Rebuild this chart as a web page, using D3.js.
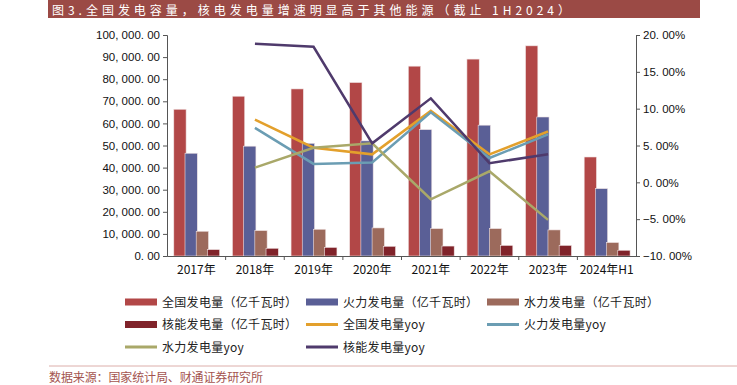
<!DOCTYPE html>
<html>
<head>
<meta charset="utf-8">
<script src="https://cdn.jsdelivr.net/npm/d3@7"></script>
<style>
  body { margin: 0; background: #fff; }
  text { font-family: "Liberation Sans", Arial, sans-serif; }
  .cjk { font-family: "Noto Sans CJK SC", sans-serif; }
</style>
</head>
<body>
<svg id="chart" width="737" height="385"></svg>
<script>
'use strict'

var years = ['2017年','2018年','2019年','2020年','2021年','2022年','2023年','2024年H1']

// 亿千瓦时
var total   = [66400, 72300, 75600, 78500, 85900, 89100, 95100, 44800]
var thermal = [46500, 49700, 51000, 52100, 57200, 59200, 62900, 30500]
var hydro   = [11200, 11500, 12100, 12700, 12400, 12400, 11800, 6100]
var nuclear = [2900, 3500, 3900, 4400, 4500, 4800, 4800, 2600]

// yoy, %, 2018-2023
var totalYoy   = [null, 8.5, 4.7, 3.8, 9.7, 3.8, 6.9, null]
var thermalYoy = [null, 7.4, 2.5, 2.7, 9.5, 3.3, 6.5, null]
var hydroYoy   = [null, 2.0, 4.7, 5.3, -2.3, 1.5, -5.1, null]
var nuclearYoy = [null, 18.8, 18.4, 5.3, 11.4, 2.6, 3.8, null]

var leftTicks  = d3.range(0, 100001, 10000)
var rightTicks = d3.range(-10, 20.1, 5)

var barSeries = [
  {name: '全国发电量（亿千瓦时）', values: total,   color: '#b24747'},
  {name: '火力发电量（亿千瓦时）', values: thermal, color: '#5a5f96'},
  {name: '水力发电量（亿千瓦时）', values: hydro,   color: '#9c6a5c'},
  {name: '核能发电量（亿千瓦时）', values: nuclear, color: '#80232a'}
]
var lineSeries = [
  {name: '全国发电量yoy', values: totalYoy,   color: '#e3a02c'},
  {name: '火力发电量yoy', values: thermalYoy, color: '#6b9db3'},
  {name: '水力发电量yoy', values: hydroYoy,   color: '#a9a869'},
  {name: '核能发电量yoy', values: nuclearYoy, color: '#4f3a6c'}
]

var svg = d3.select('#chart')
var plot = {left: 167, right: 636, top: 35, bottom: 256}

// title bar
svg.append('rect')
  .attr('x', 48).attr('y', 0)
  .attr('width', 652).attr('height', 18)
  .attr('fill', '#9b4a45')
svg.append('text')
  .attr('class', 'cjk')
  .attr('x', 52).attr('y', 14.5)
  .attr('fill', '#fff')
  .attr('font-size', 12)
  .attr('textLength', 518)
  .attr('lengthAdjust', 'spacing')
  .text('图3.全国发电容量，核电发电量增速明显高于其他能源（截止 1H2024）')

var x = d3.scaleBand()
  .domain(years)
  .range([plot.left, plot.right])

var y = d3.scaleLinear()
  .domain([0, 100000])
  .range([plot.bottom, plot.top])

var y2 = d3.scaleLinear()
  .domain([-10, 20])
  .range([plot.bottom, plot.top])

var fmtLeft = function(d) {
  return d3.format(',.2f')(d).replace(/,/g, ', ').replace('.', '. ')
}
var fmtRight = function(d) {
  return d3.format('.2f')(d).replace('.', '. ') + '%'
}

// bars
var barStep = 11.2, barW = 12.3, barOffset = 6.8
barSeries.forEach(function(s, i) {
  svg.append('g')
    .selectAll('rect')
    .data(s.values)
    .enter()
      .append('rect')
      .attr('x', (d, j) => x(years[j]) + barOffset + i * barStep)
      .attr('y', d => y(d))
      .attr('width', barW)
      .attr('height', d => y(0) - y(d))
      .attr('fill', s.color)
      .attr('stroke', '#f1e4e4')
      .attr('stroke-width', 0.6)
})

// axes
var axisL = svg.append('g')
  .attr('transform', 'translate(' + plot.left + ',0)')
  .call(d3.axisLeft(y).tickValues(leftTicks).tickFormat(fmtLeft).tickSize(4).tickPadding(3))
var axisR = svg.append('g')
  .attr('transform', 'translate(' + plot.right + ',0)')
  .call(d3.axisRight(y2).tickValues(rightTicks).tickFormat(fmtRight).tickSize(4).tickPadding(3))
var axisX = svg.append('g')
  .attr('transform', 'translate(0,' + plot.bottom + ')')
  .call(d3.axisBottom(x).tickSize(0).tickPadding(9))

// category separators on x axis
axisX.selectAll('.sep')
  .data(years.slice(1))
  .enter()
    .append('line')
    .attr('x1', d => x(d)).attr('x2', d => x(d))
    .attr('y1', 0).attr('y2', 4)
    .attr('stroke', '#555')

;[axisL, axisR, axisX].forEach(function(a) {
  a.selectAll('.domain').attr('stroke', '#555')
  a.selectAll('.tick line').attr('stroke', '#555')
  a.selectAll('text').attr('fill', '#111').attr('font-size', 11.5)
})
axisX.selectAll('text').attr('class', 'cjk').attr('font-size', 12)

// yoy lines
var line = d3.line()
  .defined(d => d.v != null)
  .x(d => x(d.k) + x.bandwidth() / 2)
  .y(d => y2(d.v))

lineSeries.forEach(function(s) {
  svg.append('path')
    .datum(s.values.map((v, j) => ({k: years[j], v: v})))
    .attr('d', line)
    .attr('fill', 'none')
    .attr('stroke', s.color)
    .attr('stroke-width', 2.5)
})

// legend
var legendItems = barSeries.map(s => ({name: s.name, color: s.color, bar: true}))
  .concat(lineSeries.map(s => ({name: s.name, color: s.color, bar: false})))
var legCols = [125, 306, 487], legRows = [302, 324.5, 347]

var leg = svg.append('g')
  .selectAll('g')
  .data(legendItems)
  .enter()
    .append('g')
    .attr('transform', (d, i) => 'translate(' + legCols[i % 3] + ',' + legRows[Math.floor(i / 3)] + ')')

leg.append('rect')
  .attr('x', 0)
  .attr('y', d => d.bar ? -3.5 : -1.5)
  .attr('width', 32)
  .attr('height', d => d.bar ? 7 : 3)
  .attr('fill', d => d.color)

leg.append('text')
  .attr('class', 'cjk')
  .attr('x', 37)
  .attr('y', 4.5)
  .attr('font-size', 12)
  .attr('fill', '#222')
  .attr('letter-spacing', 0.3)
  .text(d => d.name)

// source
svg.append('line')
  .attr('x1', 49).attr('x2', 737)
  .attr('y1', 366).attr('y2', 366)
  .attr('stroke', '#dcaeaa')
svg.append('text')
  .attr('class', 'cjk')
  .attr('x', 49).attr('y', 382)
  .attr('font-size', 12)
  .attr('fill', '#a4544f')
  .attr('textLength', 214)
  .attr('lengthAdjust', 'spacing')
  .text('数据来源：国家统计局、财通证券研究所')
</script>
</body>
</html>
